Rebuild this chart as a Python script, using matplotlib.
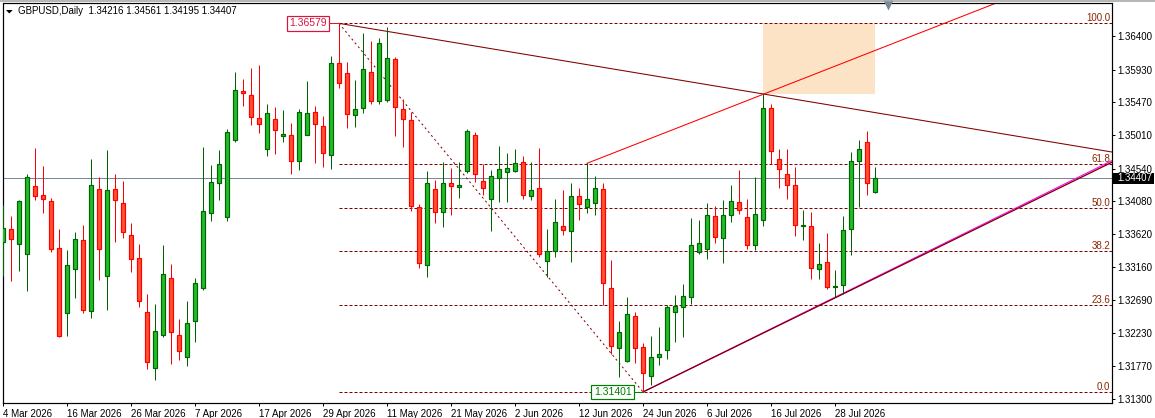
import matplotlib
matplotlib.use("Agg")
import matplotlib.pyplot as plt
from matplotlib.patches import Polygon, Rectangle
from matplotlib.lines import Line2D

plt.rcParams['font.family'] = ['Liberation Sans', 'DejaVu Sans']

#candles
opens = [1.33504,1.33686,1.33485,1.33344,1.34290,1.34163,1.34079,1.33419,1.32515,1.33133,
         1.33532,1.32543,1.34248,1.33035,1.34248,1.34051,1.33602,1.33279,1.32529,1.31743,
         1.32206,1.32997,1.32197,1.31888,1.32403,1.32857,1.33910,1.34332,1.33853,1.34936,
         1.35624,1.35568,1.35245,1.34809,1.35231,1.35001,1.35006,1.34641,1.35006,1.35329,
         1.35133,1.34725,1.36017,1.35877,1.35287,1.35385,1.35891,1.35484,1.35498,1.36073,
         1.35371,1.35217,1.34004,1.33180,1.34248,1.33934,1.34332,1.34276,1.34500,1.35006,
         1.34360,1.34107,1.34402,1.34486,1.34510,1.34627,1.34150,1.34262,1.33236,1.33377,
         1.33728,1.33658,1.34150,1.33995,1.34051,1.34248,1.32857,1.32014,1.31841,1.32464,
         1.32028,1.31621,1.31888,1.31986,1.32529,1.32590,1.32730,1.33363,1.33405,1.33869,
         1.33560,1.33883,1.34065,1.33853,1.33461,1.33822,1.35385,1.34669,1.34458,1.34304,
         1.33728,1.33728,1.33124,1.33222,1.32871,1.32899,1.33686,1.34641,1.34908,1.34216]
highs = [1.34028,1.33873,1.34098,1.34463,1.34823,1.34575,1.34121,1.33691,1.33396,1.33649,
         1.33747,1.34674,1.34416,1.34800,1.34463,1.34360,1.33775,1.33475,1.32783,1.32632,
         1.33461,1.33194,1.32421,1.32679,1.32997,1.34842,1.34589,1.34800,1.35090,1.35896,
         1.35797,1.35947,1.35994,1.35446,1.35404,1.35362,1.35179,1.35376,1.35769,1.35418,
         1.35278,1.36120,1.36579,1.36036,1.35783,1.36443,1.36331,1.36373,1.36523,1.36106,
         1.35512,1.35329,1.34037,1.34500,1.34374,1.34627,1.34542,1.34627,1.35090,1.35048,
         1.34599,1.34514,1.34856,1.34753,1.34809,1.34711,1.34627,1.34823,1.33686,1.34112,
         1.34234,1.34332,1.34262,1.34613,1.34430,1.34332,1.33250,1.32393,1.32730,1.32520,
         1.32085,1.32183,1.32309,1.32618,1.32758,1.32913,1.33840,1.33812,1.34051,1.34014,
         1.34093,1.34308,1.34519,1.34112,1.34416,1.35582,1.35441,1.34809,1.34809,1.34556,
         1.33953,1.33925,1.33494,1.33630,1.33110,1.33868,1.34767,1.34936,1.35062,1.34561]
lows = [1.33025,1.32964,1.33105,1.32824,1.34098,1.33915,1.33373,1.32173,1.32192,1.32726,
        1.32510,1.32445,1.32978,1.32557,1.33513,1.33569,1.33091,1.32590,1.31729,1.31574,
        1.32178,1.31799,1.31855,1.31771,1.32108,1.32838,1.33807,1.34098,1.33807,1.34917,
        1.35418,1.35151,1.35039,1.34720,1.34749,1.34912,1.34463,1.34519,1.35006,1.34617,
        1.34561,1.34533,1.35671,1.35109,1.35123,1.35320,1.35446,1.35446,1.35470,1.34997,
        1.34847,1.33948,1.33147,1.33021,1.33780,1.33723,1.33883,1.34131,1.34472,1.34346,
        1.34163,1.33667,1.34074,1.34065,1.34486,1.34117,1.34098,1.33293,1.33016,1.33302,
        1.33606,1.33232,1.33822,1.33910,1.33892,1.32618,1.31935,1.31616,1.31827,1.31813,
        1.31401,1.31504,1.31785,1.31865,1.32103,1.32173,1.32641,1.33344,1.33274,1.33489,
        1.33217,1.33789,1.33901,1.33415,1.33391,1.33738,1.34599,1.34262,1.34117,1.33588,
        1.33541,1.32983,1.32992,1.32843,1.32730,1.32773,1.33321,1.33995,1.34163,1.34195]
closes = [1.33705,1.33555,1.34079,1.34416,1.34159,1.34117,1.33415,1.32192,1.33180,1.33546,
          1.32557,1.34304,1.33415,1.34234,1.34093,1.33644,1.33274,1.32674,1.31818,1.32253,
          1.33053,1.32248,1.31972,1.32365,1.32927,1.33939,1.34346,1.34603,1.35048,1.35639,
          1.35596,1.35259,1.35161,1.35315,1.35076,1.35020,1.34650,1.35329,1.35315,1.35161,
          1.34753,1.36017,1.35736,1.35301,1.35371,1.35933,1.35484,1.36298,1.36088,1.35399,
          1.35231,1.34009,1.33208,1.34332,1.33934,1.34332,1.34290,1.34304,1.35062,1.34458,
          1.34262,1.34430,1.34529,1.34543,1.34622,1.34163,1.34234,1.33335,1.33377,1.33785,
          1.33672,1.34150,1.34037,1.34107,1.34262,1.32927,1.32042,1.32239,1.32492,1.32014,
          1.31663,1.31888,1.31930,1.32590,1.32604,1.32744,1.33461,1.33489,1.33883,1.33574,
          1.33883,1.34079,1.33962,1.33461,1.33897,1.35385,1.34781,1.34538,1.34304,1.33742,
          1.33742,1.33138,1.33194,1.32871,1.32885,1.33672,1.34641,1.34809,1.34332,1.34407]

#axes labels
date_ticks = list(range(0, 112, 8))
date_labels = ["4 Mar 2026", "16 Mar 2026", "26 Mar 2026", "7 Apr 2026", "17 Apr 2026", "29 Apr 2026",
               "11 May 2026", "21 May 2026", "2 Jun 2026", "12 Jun 2026", "24 Jun 2026", "6 Jul 2026",
               "16 Jul 2026", "28 Jul 2026"]
price_ticks = [1.36400, 1.35930, 1.35470, 1.35010, 1.34540, 1.34080, 1.33620, 1.33160, 1.32690, 1.32230, 1.31770, 1.31300]

#drawn objects
last_price = 1.34407
fib_top = 1.36579
fib_bottom = 1.31401
fib_start = 42
fib_end = 80
fib_names = ["100.0", "61.8", "50.0", "38.2", "23.6", "0.0"]
fib_prices = [1.36579, 1.34601, 1.33990, 1.33379, 1.32623, 1.31401]
upper_x = [42, 138.6]
upper_y = [1.36579, 1.34772]
red_x = [73, 124]
red_y = [1.34613, 1.36858]
lower_x = [80, 138.6]
lower_y = [1.31401, 1.34627]
magenta_y = [1.31401, 1.34650]
box_x = [95, 109]
box_y = [1.35582, 1.36579]

#1 px is 0.72 pt at this dpi
PX = 0.72
DARKRED = "#800000"
FS = 7.0

fig = plt.figure(figsize=(11.55, 4.18), dpi=100, facecolor="white")
ax = fig.add_axes([2.5 / 1155, 1 - 402.5 / 418, 1109 / 1155, 399 / 418])
ax.set_xlim(-0.06, 138.56)
ax.set_ylim(1.31253, 1.36858)

#box and lines behind the candles
ax.add_patch(Rectangle((box_x[0], box_y[0]), box_x[1] - box_x[0], box_y[1] - box_y[0],
                       facecolor="#FDE3C5", edgecolor="none", zorder=1))
ax.axhline(last_price, color="#778899", lw=PX, zorder=1.5)
for name, price in zip(fib_names, fib_prices):
    ax.hlines(price, fib_start, ax.get_xlim()[1], color=DARKRED, lw=PX, linestyles=(0, (3, 2)), zorder=2)
    ax.annotate(name, (ax.get_xlim()[1], price), xytext=(-1.5, 0), textcoords="offset pixels",
                ha="right", va="bottom", fontsize=FS, color="#8B2500", zorder=6)
ax.plot([fib_start, fib_end], [fib_top, fib_bottom], color=DARKRED, lw=PX, ls=(0, (2, 3)), zorder=2)
ax.plot(upper_x, upper_y, color=DARKRED, lw=PX * 1.05, zorder=2)
ax.plot(red_x, red_y, color="#FF0000", lw=PX * 1.05, zorder=2)
ax.plot(lower_x, magenta_y, color="#FF00FF", lw=PX * 1.1, zorder=2)
ax.plot(lower_x, lower_y, color=DARKRED, lw=PX * 1.3, zorder=2.1)

#candles
for i in range(len(opens)):
    up = closes[i] >= opens[i]
    edge = "#006400" if up else "#FF0000"
    fill = "#22BE2A" if up else "#FF5233"
    ax.vlines(i, lows[i], highs[i], color=edge, lw=PX, zorder=3)
    ax.bar(i, abs(closes[i] - opens[i]), bottom=min(opens[i], closes[i]), width=0.5,
           facecolor=fill, edgecolor=edge, linewidth=PX * 1.2, zorder=3.5)

#price labels of the swing points
ax.plot([37.5, fib_start], [fib_top, fib_top], color="#DC143C", lw=PX, zorder=4)
ax.plot([fib_end - 2, fib_end], [fib_bottom, fib_bottom], color="#008000", lw=PX, zorder=4)
ax.annotate("1.36579", (fib_start, fib_top), xytext=(-12, 0), textcoords="offset pixels",
            ha="right", va="center", fontsize=7.5, color="#DC143C", zorder=5,
            bbox=dict(boxstyle="square,pad=0.22", facecolor="white", edgecolor="#DC143C", linewidth=PX * 1.2))
ax.annotate("1.31401", (fib_end, fib_bottom), xytext=(-11.5, 0), textcoords="offset pixels",
            ha="right", va="center", fontsize=7.5, color="#008000", zorder=5,
            bbox=dict(boxstyle="square,pad=0.22", facecolor="white", edgecolor="#008000", linewidth=PX * 1.2))

#chart shift marker
ax.plot([110.6], [1.36832], marker="v", ms=7, color="#778899", mec="none", zorder=5, clip_on=False)

#axes
for side in ax.spines:
    ax.spines[side].set_linewidth(PX * 1.2)
    ax.spines[side].set_color("black")
ax.yaxis.tick_right()
ax.set_xticks(date_ticks[:len(date_labels)])
ax.set_xticklabels(date_labels, ha="left", fontsize=FS)
ax.set_yticks(price_ticks)
ax.set_yticklabels(["%.5f" % p for p in price_ticks], fontsize=FS)
ax.tick_params(axis="x", length=2.5, width=PX, pad=2)
ax.tick_params(axis="y", length=2.5, width=PX, pad=1.5)

#last price tag
fig.add_artist(Rectangle((1112.7 / 1155, 1 - 183.5 / 418), 41.5 / 1155, 10.5 / 418, transform=fig.transFigure,
                         facecolor="black", edgecolor="none", zorder=8))
fig.text(1117 / 1155, 1 - 178.5 / 418, "1.34407", fontsize=FS, va="center", color="white", zorder=9)

#header
fig.text(18 / 1155, 1 - 11.5 / 418, "GBPUSD,Daily  1.34216 1.34561 1.34195 1.34407", fontsize=FS, va="center", color="black")
fig.add_artist(Polygon([(6 / 1155, 1 - 10 / 418), (12.7 / 1155, 1 - 10 / 418), (9.3 / 1155, 1 - 13.5 / 418)],
                       closed=True, transform=fig.transFigure, facecolor="black", edgecolor="none"))
fig.add_artist(Line2D([0, 1], [1 - 0.5 / 418, 1 - 0.5 / 418], color="#A0A0A0", lw=PX * 1.5))

fig.savefig("out.png", dpi=100, facecolor="white")
